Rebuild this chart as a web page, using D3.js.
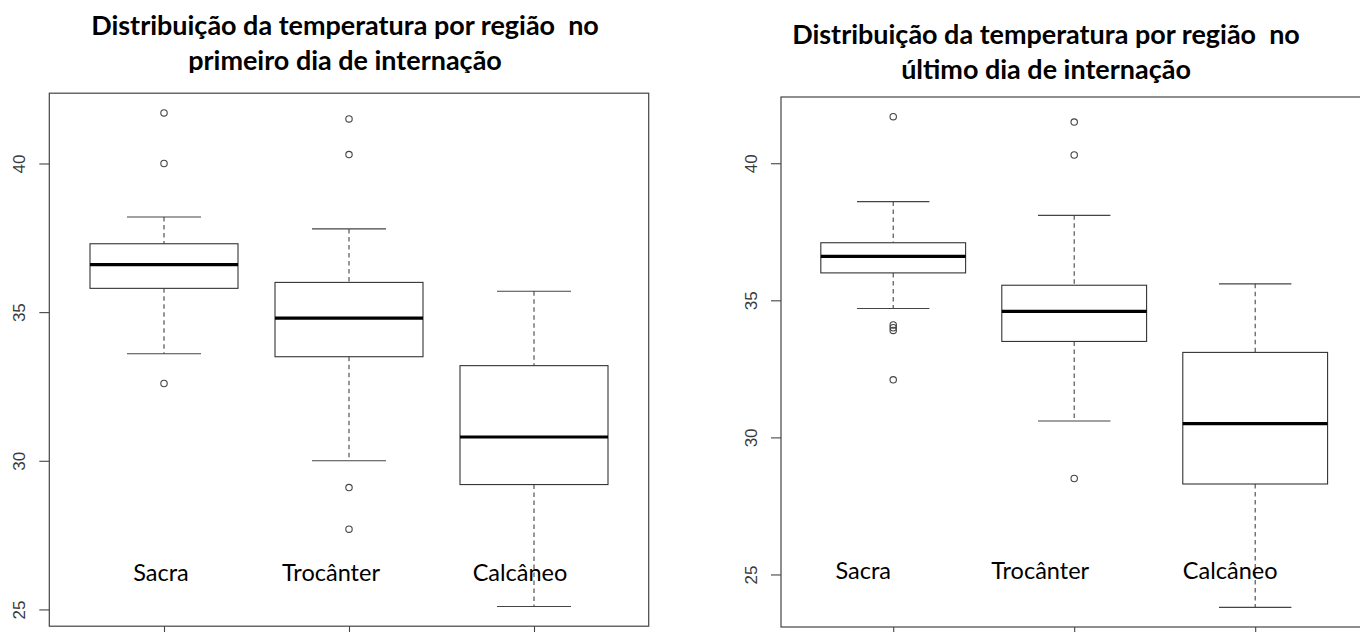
<!DOCTYPE html>
<html>
<head>
<meta charset="utf-8">
<script src="https://cdn.jsdelivr.net/npm/d3@7"></script>
<style>
  body { margin: 0; background: #fff; }
  svg { display: block; }
  .frame { fill: none; stroke: #444; stroke-width: 1.2; }
  .box { fill: #fff; stroke: #333; stroke-width: 1.1; }
  .median { stroke: #000; stroke-width: 3.2; }
  .whisker { stroke: #444; stroke-width: 1.1; stroke-dasharray: 4.5 3.5; }
  .cap { stroke: #444; stroke-width: 1.1; }
  .outlier { fill: none; stroke: #444; stroke-width: 1.1; }
  .tick line { stroke: #444; stroke-width: 1.1; }
  .tick text { font-family: "Liberation Sans", Arial, sans-serif; font-size: 17px; fill: #3a3a3a; }
  .title { font-family: Lato, "Open Sans", sans-serif; font-weight: bold; fill: #000; white-space: pre; }
  .catlabel { font-family: Lato, "Open Sans", sans-serif; fill: #000; }
</style>
</head>
<body>
<div id="chart"></div>
<script>

  // categories and tick labels
  var categories = ["Sacra", "Trocânter", "Calcâneo"];
  var yTicks = [25, 30, 35, 40];

  // first day of hospitalisation
  var firstLow = [33.6, 30.0, 25.1];
  var firstQ1 = [35.8, 33.5, 29.2];
  var firstMedian = [36.6, 34.8, 30.8];
  var firstQ3 = [37.3, 36.0, 33.2];
  var firstHigh = [38.2, 37.8, 35.7];
  var firstOutliers = [[41.7, 40.0, 32.6], [41.5, 40.3, 29.1, 27.7], []];

  // last day of hospitalisation
  var lastLow = [34.7, 30.6, 23.8];
  var lastQ1 = [36.0, 33.5, 28.3];
  var lastMedian = [36.6, 34.6, 30.5];
  var lastQ3 = [37.1, 35.55, 33.1];
  var lastHigh = [38.6, 38.1, 35.6];
  var lastOutliers = [[41.7, 34.1, 34.0, 33.9, 32.1], [41.5, 40.3, 28.5], []];

  var titleFirst = ["Distribuição da temperatura por região  no", "primeiro dia de internação"];
  var titleLast = ["Distribuição da temperatura por região  no", "último dia de internação"];

  var width = 1360, height = 632;

  var svg = d3.select("#chart").append("svg")
    .attr("width", width)
    .attr("height", height);

  function rows(low, q1, med, q3, high, outl) {
    return categories.map(function (c, i) {
      return { name: c, i: i + 1, low: low[i], q1: q1[i], med: med[i], q3: q3[i], high: high[i], out: outl[i] };
    });
  }

  function drawPanel(data, title, p) {
    var g = svg.append("g");

    // R style: range of all values, padded by 4%
    var all = [];
    data.forEach(function (d) { all.push(d.low, d.high); all = all.concat(d.out); });
    var ext = d3.extent(all), pad = (ext[1] - ext[0]) * 0.04;

    var x = d3.scaleLinear()
      .domain([0.5 - 0.12, 3.5 + 0.12])
      .range([p.left, p.right]);

    var y = d3.scaleLinear()
      .domain([ext[0] - pad, ext[1] + pad])
      .range([p.bottom, p.top]);

    var bw = x(0.4) - x(0); // half box width
    var cw = bw / 2;        // half staple width

    // y axis
    var yAxis = g.append("g")
      .attr("transform", "translate(" + p.left + ",0)")
      .call(d3.axisLeft(y).tickValues(yTicks).tickSize(10).tickPadding(0));
    yAxis.select(".domain").remove();
    yAxis.selectAll(".tick text")
      .attr("text-anchor", "middle")
      .attr("x", null)
      .attr("transform", "translate(-30,0) rotate(-90)")
      .attr("dy", "0.35em");

    // x axis ticks (labels sit below the crop)
    var xAxis = g.append("g")
      .attr("transform", "translate(0," + p.bottom + ")")
      .call(d3.axisBottom(x).tickValues([1, 2, 3]).tickSize(10).tickFormat(""));
    xAxis.select(".domain").remove();

    var box = g.selectAll(".bx").data(data).enter().append("g").attr("class", "bx");

    // whiskers
    box.append("line").attr("class", "whisker")
      .attr("x1", function (d) { return x(d.i); }).attr("x2", function (d) { return x(d.i); })
      .attr("y1", function (d) { return y(d.high); }).attr("y2", function (d) { return y(d.q3); });
    box.append("line").attr("class", "whisker")
      .attr("x1", function (d) { return x(d.i); }).attr("x2", function (d) { return x(d.i); })
      .attr("y1", function (d) { return y(d.q1); }).attr("y2", function (d) { return y(d.low); });

    box.append("line").attr("class", "cap")
      .attr("x1", function (d) { return x(d.i) - cw; }).attr("x2", function (d) { return x(d.i) + cw; })
      .attr("y1", function (d) { return y(d.high); }).attr("y2", function (d) { return y(d.high); });
    box.append("line").attr("class", "cap")
      .attr("x1", function (d) { return x(d.i) - cw; }).attr("x2", function (d) { return x(d.i) + cw; })
      .attr("y1", function (d) { return y(d.low); }).attr("y2", function (d) { return y(d.low); });

    box.append("rect").attr("class", "box")
      .attr("x", function (d) { return x(d.i) - bw; })
      .attr("width", bw * 2)
      .attr("y", function (d) { return y(d.q3); })
      .attr("height", function (d) { return y(d.q1) - y(d.q3); });

    box.append("line").attr("class", "median")
      .attr("x1", function (d) { return x(d.i) - bw; }).attr("x2", function (d) { return x(d.i) + bw; })
      .attr("y1", function (d) { return y(d.med); }).attr("y2", function (d) { return y(d.med); });

    box.selectAll(".outlier")
      .data(function (d) { return d.out.map(function (v) { return { i: d.i, v: v }; }); })
      .enter().append("circle")
      .attr("class", "outlier")
      .attr("cx", function (d) { return x(d.i); })
      .attr("cy", function (d) { return y(d.v); })
      .attr("r", 3.2);

    // frame
    g.append("rect").attr("class", "frame")
      .attr("x", p.left).attr("y", p.top)
      .attr("width", p.right - p.left).attr("height", p.bottom - p.top);

    // category names written inside the plot
    var lab = g.selectAll(".catlabel").data(data).enter().append("text")
      .attr("class", "catlabel")
      .attr("text-anchor", "middle")
      .attr("x", function (d, i) { return x(d.i) + p.labelShift[i]; })
      .attr("y", p.labelY)
      .style("font-size", "20px")
      .text(function (d) { return d.name; });
    var tw = lab.filter(function (d) { return d.i === 2; }).node().getComputedTextLength();
    lab.style("font-size", (20 * 98 / tw) + "px");

    // title (the first one is cut off at the bottom in the original)
    var clipId = "clip" + Math.round(p.left);
    svg.append("clipPath").attr("id", clipId).append("rect")
      .attr("x", p.titleX - 400).attr("y", 0).attr("width", 800).attr("height", p.titleClip);
    var t = svg.append("g").attr("clip-path", "url(#" + clipId + ")")
      .selectAll(".title").data(title).enter().append("text")
      .attr("class", "title")
      .attr("text-anchor", "middle")
      .attr("x", p.titleX)
      .attr("y", function (d, i) { return p.titleY[i]; })
      .style("font-size", "20px")
      .text(function (d) { return d; });
    var w0 = t.node().getComputedTextLength();
    t.style("font-size", (20 * p.titleWidth / w0) + "px");
  }

  drawPanel(rows(firstLow, firstQ1, firstMedian, firstQ3, firstHigh, firstOutliers), titleFirst, {
    left: 49.3, right: 648.7, top: 93.2, bottom: 626.2,
    titleX: 345, titleY: [35, 70], titleClip: 73, titleWidth: 508,
    labelShift: [-3, -18, -14], labelY: 581
  });

  drawPanel(rows(lastLow, lastQ1, lastMedian, lastQ3, lastHigh, lastOutliers), titleLast, {
    left: 781, right: 1367.4, top: 97, bottom: 627,
    titleX: 1046, titleY: [44, 79], titleClip: 100, titleWidth: 508,
    labelShift: [-30, -34, -25], labelY: 579
  });

</script>
</body>
</html>
